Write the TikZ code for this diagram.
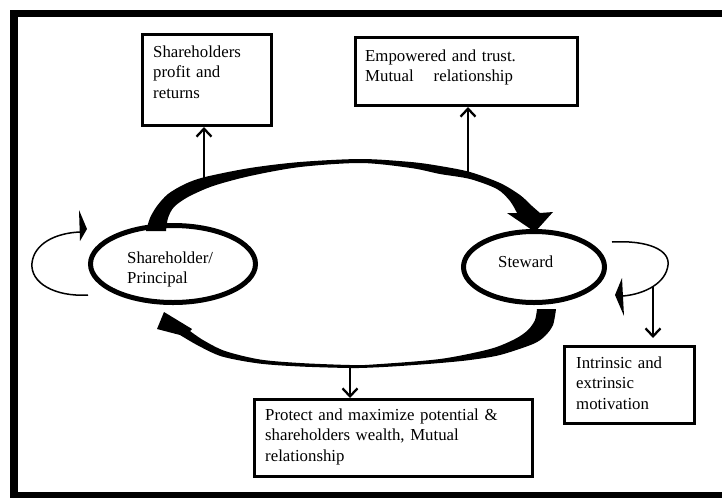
\documentclass[tikz,border=0pt]{standalone}
\usepackage{fontspec}
\setmainfont{Liberation Serif}
\usetikzlibrary{arrows.meta,shapes.geometric}
\begin{document}
\begin{tikzpicture}[x=1pt,y=-1pt,
  txt/.style={font=\fontsize{16.8pt}{20.5pt}\selectfont, inner sep=0pt, anchor=base west, align=left},
  box/.style={draw, line width=3pt, inner sep=0pt},
  ell/.style={draw, ellipse, line width=5pt, inner sep=0pt},
  thinarrow/.style={line width=2.3pt, -{Straight Barb[length=8pt,width=15pt]}},
  loopline/.style={line width=1.5pt},
]
\useasboundingbox (0,0) rectangle (722,499);
% frame
\draw[line width=7.5pt] (10,13.5) -- (722,13.5);
\draw[line width=7.5pt] (14,10) -- (14,498);
\draw[line width=5.5pt] (10,495) -- (722,495);

% boxes
\node[box, minimum width=129pt, minimum height=91pt] (shbox) at (207,80) {};
\node[box, minimum width=222pt, minimum height=68pt] (embox) at (466.5,71.5) {};
\node[box, minimum width=278pt, minimum height=77pt] (prbox) at (393.5,438) {};
\node[box, minimum width=130pt, minimum height=77pt] (inbox) at (629.5,385) {};

\node[txt, text width=115pt] (shtxt) at (153,57) {Shareholders\\profit and\\returns};
\node[txt, text width=210pt] (emtxt) at (365,61) {Empowered and trust.\\Mutual\hspace{20pt}relationship};
\node[txt, text width=265pt] (prtxt) at (265,420) {Protect and maximize potential \&\\shareholders wealth, Mutual\\relationship};
\node[txt, text width=115pt] (intxt) at (576,368) {Intrinsic and\\extrinsic\\motivation};

% ellipses
\node[ell, minimum width=165pt, minimum height=77pt] (sh) at (173,264) {};
\node[ell, minimum width=141pt, minimum height=71pt] (st) at (534,267) {};
\node[txt, text width=120pt] (shlab) at (127,263) {Shareholder/\\Principal};
\node[txt, text width=80pt] (stlab) at (498,267) {Steward};

% top thick arrow (Shareholder -> Steward)
\fill plot[smooth, tension=0.5] coordinates {(146,231) (150,218) (157,206) (168,194) (185,184) (205,177) (250,168) (300,162) (361,159) (411,162) (440,166) (470,172) (500,183) (520,195) (532,206) (540,213)}
  -- (553,212) -- (535,232) -- (507,213)
  -- plot[smooth, tension=0.5] coordinates {(517,213) (510,201) (497,189) (470,179) (440,174) (411,168) (361,163) (300,167) (250,176) (213,186) (188,197) (174,207) (168,218) (166,231)}
  -- cycle;

% bottom thick arrow (Steward -> Shareholder)
\fill plot[smooth, tension=0.5] coordinates {(556,309) (553,325) (545,336) (533,344) (500,355) (470,360) (440,363) (400,366) (373,367.5) (350,368) (300,366.5) (259,363.5) (222,356.5) (198,345.5) (180,335)}
  -- (157,329) -- (164,312) -- (192,329)
  -- plot[smooth, tension=0.5] coordinates {(190,331) (203,340) (225,351) (260,359.5) (300,363) (350,365) (373,364.5) (440,359) (490,349) (515,339) (528,330) (535,320) (537,309)}
  -- cycle;

% thin connectors to boxes
\coordinate (c1) at (204,183);
\coordinate (c2) at (468,176);
\coordinate (c3) at (350,365);
\draw[thinarrow] (c1) -- (shbox.south -| c1);
\draw[thinarrow] (c2) -- (embox.south -| c2);
\draw[thinarrow] (c3) -- (prbox.north -| c3);

% left loop
\coordinate (l1s) at (88,295);
\coordinate (l1e) at (80,232);
\draw[loopline] (l1s) .. controls (55,297) and (30,283) .. (32,263) .. controls (34,244) and (55,233) .. (l1e);
\fill (79,210) -- (87,229) -- (80,241) -- cycle;

% right loop
\coordinate (l2s) at (612,242);
\coordinate (l2e) at (623,296);
\draw[loopline] (l2s) .. controls (648,240) and (670,250) .. (668,265) .. controls (666,283) and (645,294) .. (l2e);
\fill (622,278) -- (615,295) -- (624,316) -- cycle;

\coordinate (c4) at (653,287);
\draw[thinarrow, shorten >=7pt] (c4) -- (inbox.north -| c4);
\end{tikzpicture}
\end{document}
